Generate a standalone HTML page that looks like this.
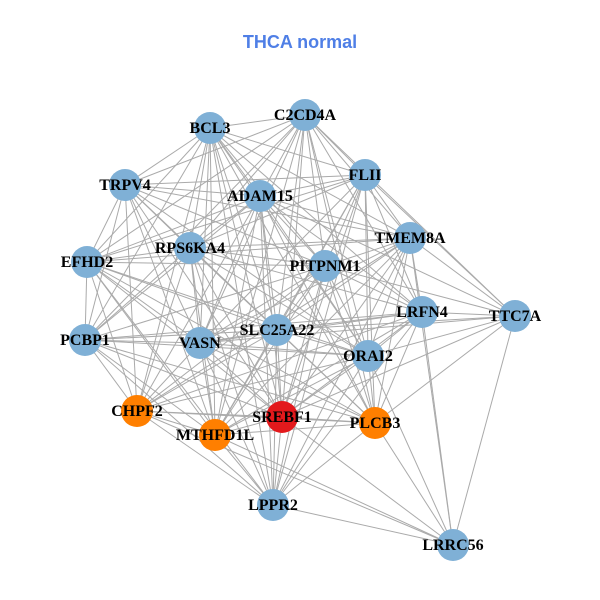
<!DOCTYPE html>
<html><head><meta charset="utf-8"><style>
html,body{margin:0;padding:0;background:#fff;}
svg{display:block}
</style></head><body>
<svg id="s" width="600" height="600" xmlns="http://www.w3.org/2000/svg">
<rect width="600" height="600" fill="#fff"/>
<text x="300" y="48" text-anchor="middle" font-family="Liberation Sans, sans-serif" font-weight="bold" font-size="18" fill="#4f7fe6">THCA normal</text>
<g id="e" stroke="#aaaaaa" stroke-width="1"></g>
<g id="n"></g>
<g id="t" font-family="Liberation Serif, serif" font-weight="bold" font-size="16" fill="#000" text-anchor="middle"></g>
</svg>
<script>
var N={
C2CD4A:[305,115,'b'],BCL3:[210,128,'b'],FLII:[365,175,'b'],TRPV4:[125,185,'b'],ADAM15:[260,196,'b'],
TMEM8A:[410,238,'b'],EFHD2:[87,262,'b'],RPS6KA4:[190,248,'b'],PITPNM1:[325,266,'b'],LRFN4:[422,312,'b'],
TTC7A:[515,316,'b'],PCBP1:[85,340,'b'],VASN:[200,343,'b'],SLC25A22:[277,330,'b'],ORAI2:[368,356,'b'],
CHPF2:[137,411,'o'],SREBF1:[282,417,'r'],PLCB3:[375,423,'o'],MTHFD1L:[215,435,'o'],LPPR2:[273,505,'b'],LRRC56:[453,545,'b']};
var special={
TTC7A:['TMEM8A','FLII','LRFN4','LRRC56','PITPNM1','SREBF1','ORAI2','PLCB3','C2CD4A','ADAM15','SLC25A22','VASN'],
LRRC56:['TTC7A','LRFN4','TMEM8A','ORAI2','PLCB3','LPPR2','SREBF1','CHPF2','MTHFD1L']};
var skip={'EFHD2-TTC7A':1,'PCBP1-FLII':1,'TRPV4-LRFN4':1,'EFHD2-LRFN4':1,'PCBP1-TMEM8A':1,'LPPR2-C2CD4A':1,'LPPR2-TRPV4':1,'CHPF2-C2CD4A':1,'CHPF2-FLII':1};
var k=Object.keys(N),e=document.getElementById('e'),ns='http://www.w3.org/2000/svg';
function ok(a,b){
 if(skip[a+'-'+b]||skip[b+'-'+a])return false;
 for(var s in special){ if(a==s)return special[s].indexOf(b)>=0; if(b==s)return special[s].indexOf(a)>=0;}
 return true;}
for(var i=0;i<k.length;i++)for(var j=i+1;j<k.length;j++){
 if(!ok(k[i],k[j]))continue;
 var l=document.createElementNS(ns,'line');
 l.setAttribute('x1',N[k[i]][0]);l.setAttribute('y1',N[k[i]][1]);
 l.setAttribute('x2',N[k[j]][0]);l.setAttribute('y2',N[k[j]][1]);e.appendChild(l);}
var col={b:'#7fb0d6',o:'#ff7f00',r:'#e3191c'};
k.forEach(function(n){var c=document.createElementNS(ns,'circle');
 c.setAttribute('cx',N[n][0]);c.setAttribute('cy',N[n][1]);c.setAttribute('r',16);
 c.setAttribute('fill',col[N[n][2]]);document.getElementById('n').appendChild(c);
 var t=document.createElementNS(ns,'text');t.setAttribute('x',N[n][0]);t.setAttribute('y',N[n][1]+5);
 t.textContent=n;document.getElementById('t').appendChild(t);});
</script>
</body></html>
